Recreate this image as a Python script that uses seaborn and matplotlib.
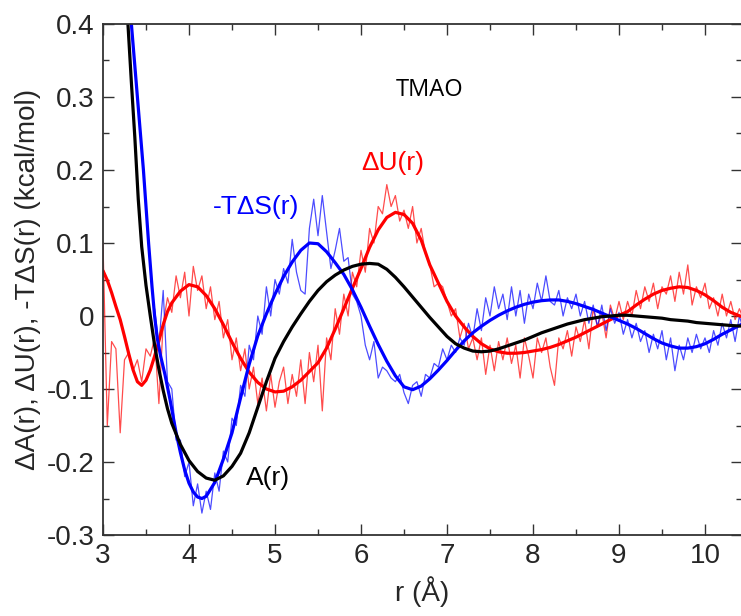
import numpy as np
import pandas as pd
import matplotlib
matplotlib.use("Agg")
import matplotlib.pyplot as plt
from matplotlib.ticker import MultipleLocator, FuncFormatter
import seaborn as sns

# ---------------- data ----------------
# smooth A(r) (black)
x_A = [3.25, 3.29, 3.33, 3.37, 3.41, 3.45, 3.50, 3.55, 3.60, 3.65, 3.70, 3.75, 3.80, 3.90,
       4.00, 4.10, 4.20, 4.30, 4.40, 4.50, 4.60, 4.70, 4.80, 4.90, 5.00, 5.10, 5.20, 5.30,
       5.40, 5.50, 5.60, 5.70, 5.80, 5.90, 6.00, 6.10, 6.20, 6.30, 6.40, 6.50, 6.60, 6.70,
       6.80, 6.90, 7.00, 7.10, 7.20, 7.30, 7.40, 7.50, 7.60, 7.70, 7.80, 7.90, 8.00, 8.10,
       8.20, 8.30, 8.40, 8.50, 8.60, 8.70, 8.80, 8.90, 9.00, 9.10, 9.20, 9.30, 9.40, 9.50,
       9.60, 9.70, 9.80, 9.90, 10.00, 10.10, 10.20, 10.30, 10.45]
y_A = [0.48, 0.40, 0.32, 0.245, 0.16, 0.095, 0.042, 0.000, -0.040, -0.073, -0.102, -0.127,
       -0.147, -0.176, -0.198, -0.213, -0.222, -0.225, -0.219, -0.206, -0.188, -0.160,
       -0.125, -0.090, -0.058, -0.035, -0.015, 0.003, 0.020, 0.035, 0.047, 0.056, 0.063,
       0.068, 0.071, 0.072, 0.071, 0.064, 0.053, 0.040, 0.026, 0.012, -0.002, -0.015, -0.028,
       -0.038, -0.044, -0.048, -0.049, -0.048, -0.045, -0.041, -0.037, -0.033, -0.028,
       -0.023, -0.019, -0.015, -0.011, -0.008, -0.005, -0.003, -0.001, 0.000, 0.001, 0.001,
       0.000, -0.001, -0.002, -0.003, -0.005, -0.006, -0.007, -0.009, -0.010, -0.011,
       -0.012, -0.013, -0.014]

# smooth -TdS(r) (blue)
x_S = [3.28, 3.33, 3.40, 3.47, 3.53, 3.57, 3.60, 3.63, 3.67, 3.72, 3.78, 3.85, 3.90, 3.95,
       4.00, 4.05, 4.10, 4.15, 4.20, 4.30, 4.40, 4.50, 4.60, 4.70, 4.80, 4.90, 5.00, 5.10,
       5.20, 5.30, 5.40, 5.50, 5.60, 5.70, 5.80, 5.90, 6.00, 6.10, 6.20, 6.30, 6.40, 6.50,
       6.60, 6.70, 6.80, 6.90, 7.00, 7.10, 7.20, 7.30, 7.40, 7.50, 7.60, 7.70, 7.80, 7.90,
       8.00, 8.10, 8.20, 8.30, 8.40, 8.50, 8.60, 8.70, 8.80, 8.90, 9.00, 9.10, 9.20, 9.30,
       9.40, 9.50, 9.60, 9.70, 9.80, 9.90, 10.00, 10.10, 10.20, 10.30, 10.45]
y_S = [0.46, 0.40, 0.30, 0.20, 0.10, 0.040, 0.000, -0.030, -0.055, -0.080, -0.115, -0.160,
       -0.187, -0.211, -0.229, -0.241, -0.248, -0.250, -0.247, -0.228, -0.196, -0.160,
       -0.112, -0.066, -0.027, 0.003, 0.030, 0.054, 0.074, 0.090, 0.100, 0.099, 0.088, 0.073,
       0.057, 0.036, 0.012, -0.014, -0.039, -0.062, -0.082, -0.097, -0.101, -0.096, -0.086,
       -0.074, -0.061, -0.047, -0.034, -0.023, -0.014, -0.006, 0.001, 0.007, 0.012, 0.016,
       0.019, 0.021, 0.022, 0.022, 0.020, 0.017, 0.013, 0.009, 0.004, -0.001, -0.006,
       -0.011, -0.017, -0.024, -0.031, -0.037, -0.041, -0.044, -0.044, -0.042, -0.038,
       -0.032, -0.025, -0.019, -0.010]

# smooth dU(r) (red)
x_U = [3.00, 3.05, 3.10, 3.15, 3.20, 3.25, 3.30, 3.35, 3.40, 3.45, 3.50, 3.55, 3.60, 3.65,
       3.70, 3.75, 3.80, 3.90, 4.00, 4.10, 4.20, 4.30, 4.40, 4.50, 4.60, 4.70, 4.80, 4.90,
       5.00, 5.10, 5.20, 5.30, 5.40, 5.50, 5.60, 5.70, 5.80, 5.90, 6.00, 6.10, 6.20, 6.30,
       6.40, 6.50, 6.60, 6.70, 6.80, 6.90, 7.00, 7.10, 7.20, 7.30, 7.40, 7.50, 7.60, 7.70,
       7.80, 7.90, 8.00, 8.10, 8.20, 8.30, 8.40, 8.50, 8.60, 8.70, 8.80, 8.90, 9.00, 9.10,
       9.20, 9.30, 9.40, 9.50, 9.60, 9.70, 9.80, 9.90, 10.00, 10.10, 10.20, 10.30, 10.45]
y_U = [0.062, 0.049, 0.032, 0.013, -0.005, -0.028, -0.052, -0.074, -0.090, -0.095, -0.088,
       -0.074, -0.055, -0.034, -0.012, 0.006, 0.018, 0.034, 0.043, 0.040, 0.028, 0.010,
       -0.012, -0.036, -0.058, -0.077, -0.091, -0.100, -0.104, -0.103, -0.097, -0.088,
       -0.076, -0.064, -0.044, -0.018, 0.010, 0.038, 0.065, 0.094, 0.118, 0.135, 0.142,
       0.139, 0.127, 0.104, 0.070, 0.045, 0.020, 0.000, -0.015, -0.028, -0.038, -0.045,
       -0.049, -0.051, -0.051, -0.050, -0.048, -0.046, -0.043, -0.039, -0.034, -0.029,
       -0.023, -0.017, -0.011, -0.005, 0.001, 0.006, 0.015, 0.023, 0.030, 0.035, 0.038,
       0.040, 0.039, 0.035, 0.029, 0.021, 0.012, 0.005, -0.002]

# raw (noisy) dU(r), x = 3.00 ... 10.45 step 0.05
x_Uraw = [round(3.00 + 0.05 * i, 2) for i in range(150)]
y_Uraw = [0.100, -0.150, -0.035, -0.045, -0.160, -0.060, -0.050, -0.075, -0.060, -0.090,
          -0.045, -0.055, -0.030, -0.120, -0.010, 0.025, 0.005, 0.055, 0.025, 0.060,
          0.000, 0.068, 0.035, 0.055, 0.010, 0.040, -0.005, 0.020, -0.030, -0.005,
          -0.060, -0.030, -0.075, -0.045, -0.100, -0.070, -0.120, -0.085, -0.130, -0.080,
          -0.125, -0.090, -0.070, -0.120, -0.080, -0.110, -0.060, -0.120, -0.050, -0.090,
          -0.040, -0.130, -0.030, -0.060, 0.010, -0.025, 0.030, 0.000, 0.060, 0.040,
          0.090, 0.060, 0.120, 0.100, 0.150, 0.140, 0.180, 0.150, 0.165, 0.130,
          0.145, 0.120, 0.150, 0.100, 0.120, 0.085, 0.070, 0.040, 0.045, 0.040,
          0.020, 0.000, 0.010, -0.030, -0.010, -0.045, -0.030, -0.060, -0.030, -0.080,
          -0.040, -0.075, -0.035, -0.060, -0.030, -0.065, -0.040, -0.085, -0.030, -0.055,
          -0.085, -0.030, -0.050, -0.030, -0.070, -0.095, -0.030, -0.045, -0.020, -0.055,
          -0.015, -0.035, -0.005, -0.045, 0.010, -0.015, 0.005, -0.030, 0.015, -0.005,
          0.020, -0.005, 0.020, 0.000, 0.035, 0.010, 0.040, 0.020, 0.045, 0.010,
          0.040, 0.030, 0.055, 0.020, 0.060, 0.030, 0.070, 0.015, 0.040, 0.025,
          0.045, 0.010, 0.025, 0.000, 0.030, 0.000, 0.020, -0.005, 0.010, -0.005]

# raw (noisy) -TdS(r), x = 3.60 ... 10.45 step 0.05
x_Sraw = [round(3.60 + 0.05 * i, 2) for i in range(138)]
y_Sraw = [0.010, -0.040, 0.035, -0.090, -0.100, -0.170, -0.170, -0.220, -0.200, -0.260,
          -0.230, -0.270, -0.240, -0.265, -0.215, -0.240, -0.185, -0.200, -0.140, -0.150,
          -0.095, -0.110, -0.040, -0.060, 0.000, -0.025, 0.040, 0.000, 0.050, 0.030,
          0.065, 0.045, 0.105, 0.060, 0.035, 0.030, 0.120, 0.160, 0.110, 0.165,
          0.115, 0.065, 0.090, 0.120, 0.075, 0.080, 0.030, 0.020, 0.000, -0.040,
          -0.060, -0.035, -0.085, -0.070, -0.075, -0.085, -0.090, -0.080, -0.105, -0.120,
          -0.095, -0.090, -0.110, -0.080, -0.085, -0.065, -0.070, -0.045, -0.060, -0.040,
          -0.050, -0.030, -0.040, -0.010, -0.030, 0.010, -0.020, 0.025, 0.000, 0.040,
          0.010, 0.030, -0.005, 0.040, 0.000, 0.035, -0.010, 0.030, 0.010, 0.045,
          0.020, 0.055, 0.020, 0.015, 0.035, 0.000, 0.025, 0.010, 0.030, 0.000,
          0.020, -0.010, 0.015, -0.015, 0.015, -0.020, 0.010, -0.010, 0.005, -0.025,
          -0.005, -0.030, -0.010, -0.035, -0.020, -0.050, -0.025, -0.045, -0.020, -0.060,
          -0.030, -0.075, -0.040, -0.060, -0.030, -0.050, -0.025, -0.045, -0.030, -0.050,
          -0.020, -0.040, -0.010, -0.030, -0.005, -0.035, 0.000, -0.020]

x_ticks = [3, 4, 5, 6, 7, 8, 9, 10]
y_ticks = [-0.3, -0.2, -0.1, 0, 0.1, 0.2, 0.3, 0.4]

# ---------------- plotting ----------------
sns.set_theme(style="ticks")
plt.rcParams['font.family'] = ['Liberation Sans', 'DejaVu Sans']
plt.rcParams['axes.unicode_minus'] = False

fig = plt.figure(figsize=(7.41, 6.16), dpi=100)
ax = fig.add_axes([103 / 741, 1 - 535 / 616, (742 - 103) / 741, (535 - 24) / 616])

RED = "#ff0000"
BLUE = "#0000ff"

sns.lineplot(x=x_Uraw, y=y_Uraw, ax=ax, color=RED, linewidth=0.9, alpha=0.7)
sns.lineplot(x=x_Sraw, y=y_Sraw, ax=ax, color=BLUE, linewidth=0.9, alpha=0.7)
sns.lineplot(x=x_U, y=y_U, ax=ax, color=RED, linewidth=2.3)
sns.lineplot(x=x_S, y=y_S, ax=ax, color=BLUE, linewidth=2.3)
sns.lineplot(x=x_A, y=y_A, ax=ax, color="black", linewidth=2.3)

ax.set_xlim(3, 3 + (742 - 103) / 86)
ax.set_ylim(-0.3, 0.4)
ax.set_xticks(x_ticks)
ax.set_yticks(y_ticks)
ax.xaxis.set_minor_locator(MultipleLocator(0.5))
ax.yaxis.set_minor_locator(MultipleLocator(0.05))
ax.yaxis.set_major_formatter(FuncFormatter(lambda v, p: "0" if abs(v) < 1e-9 else f"{v:.1f}"))
ax.xaxis.set_major_formatter(FuncFormatter(lambda v, p: f"{v:.0f}"))

ax.tick_params(which="both", direction="in", top=True, right=True, color="#333333")
ax.tick_params(which="major", length=8, width=1.0, labelsize=20, pad=6)
ax.tick_params(which="minor", length=4.5, width=1.0)
for s in ax.spines.values():
    s.set_color("#333333")
    s.set_linewidth(1.3)

ax.set_xlabel("r (Å)", fontsize=20, labelpad=5)
ax.set_ylabel("ΔA(r), ΔU(r), -TΔS(r) (kcal/mol)", fontsize=20, labelpad=4)

ax.text(6.80, 0.31, "TMAO", fontsize=17, color="black", ha="center", va="center",
        family=["Open Sans", "DejaVu Sans"])
ax.text(4.78, 0.149, "-TΔS(r)", fontsize=19, color=BLUE, ha="center", va="center")
ax.text(6.37, 0.21, "ΔU(r)", fontsize=19, color=RED, ha="center", va="center")
ax.text(4.92, -0.222, "A(r)", fontsize=19, color="black", ha="center", va="center")

fig.savefig("out.png", dpi=100)
